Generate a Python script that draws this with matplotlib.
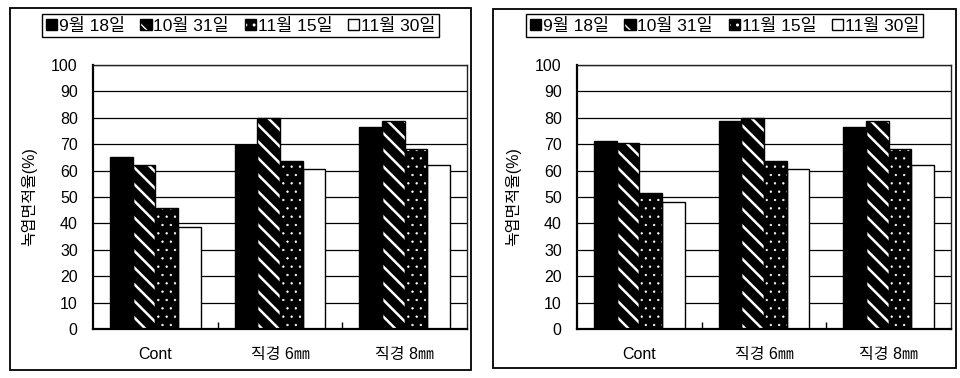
import matplotlib
matplotlib.use("Agg")
import numpy as np
import matplotlib.pyplot as plt
from matplotlib.patches import Patch, Rectangle
from matplotlib.legend_handler import HandlerTuple

plt.rcParams['font.family'] = ['Liberation Sans', 'Noto Sans CJK KR', 'DejaVu Sans']

# 처리구 / 조사일
categories = ['Cont', '직경 6㎜', '직경 8㎜']
dates = ['9월 18일', '10월 31일', '11월 15일', '11월 30일']

# 녹엽면적율(%) - 왼쪽 그래프
left_sep18 = [65.3, 69.7, 76.5]
left_oct31 = [62.0, 80.0, 78.7]
left_nov15 = [45.7, 63.6, 68.0]
left_nov30 = [38.8, 60.6, 62.1]

# 녹엽면적율(%) - 오른쪽 그래프
right_sep18 = [71.1, 78.8, 76.5]
right_oct31 = [70.5, 80.0, 78.7]
right_nov15 = [51.5, 63.6, 68.0]
right_nov30 = [48.1, 60.6, 62.1]

yticks = list(range(0, 101, 10))

# (face, hatch color, hatch, hatch linewidth)
styles = [('black', 'black', None, 1.0),
          ('black', 'white', '\\\\', 1.8),
          ('black', 'white', '..', 0.45),
          ('white', 'black', None, 1.0)]

W, H = 960, 378
fig = plt.figure(figsize=(W / 100, H / 100), dpi=100)


def hatch_lw(patch, lw):
    if hasattr(patch, 'set_hatch_linewidth'):
        patch.set_hatch_linewidth(lw)
    else:
        patch._hatch_linewidth = lw


def draw_panel(left_px, series, box):
    ax = fig.add_axes([left_px / W, (H - 329) / H, 374 / W, 264 / H])
    x = np.arange(len(categories))
    bw = 0.182
    for i, (vals, (fc, hc, hatch, hlw)) in enumerate(zip(series, styles)):
        pos = x + (i - 1.5) * bw
        bars = ax.bar(pos, vals, bw, color=fc, edgecolor=hc, hatch=hatch,
                      linewidth=0, zorder=2)
        for b in bars:
            hatch_lw(b, hlw)
        ax.bar(pos, vals, bw, fill=False, edgecolor='black',
               linewidth=1.0, zorder=3)
    ax.set_xlim(-0.5, len(categories) - 0.5)
    ax.set_ylim(0, 100)
    ax.set_yticks(yticks)
    ax.set_xticks(x)
    ax.set_xticklabels(categories)
    ax.set_xticks([0.5, 1.5], minor=True)
    ax.tick_params(axis='x', which='major', length=0, pad=13, labelsize=11.5)
    ax.tick_params(axis='x', which='minor', direction='in', length=5,
                   width=1, color='black')
    ax.tick_params(axis='y', length=0, pad=11, labelsize=11.5)
    ax.yaxis.grid(True, color='black', linewidth=0.9)
    ax.set_axisbelow(True)
    for s in ['left', 'bottom']:
        ax.spines[s].set_linewidth(1.6)
        ax.spines[s].set_color('black')
    for s in ['top', 'right']:
        ax.spines[s].set_linewidth(1.0)
        ax.spines[s].set_color('#222222')
    ax.set_ylabel('녹엽면적율(%)', fontsize=11.5)
    ax.yaxis.set_label_coords(-0.15, 0.5)

    # 바깥 테두리
    bx0, by0, bx1, by1 = box
    fig.add_artist(Rectangle((bx0 / W, 1 - by1 / H), (bx1 - bx0) / W,
                             (by1 - by0) / H, transform=fig.transFigure,
                             fill=False, edgecolor='black', linewidth=1.3))

    handles = []
    for fc, hc, hatch, hlw in styles:
        hp = Patch(facecolor=fc, edgecolor=hc, hatch=hatch, linewidth=0)
        hatch_lw(hp, hlw)
        handles.append((hp, Patch(fill=False, edgecolor='black', linewidth=1.0)))
    cx = (bx0 + bx1) / 2
    leg = fig.legend(handles, dates, loc='center', ncol=4,
                     bbox_to_anchor=(cx / W, 1 - 25.5 / H),
                     handler_map={tuple: HandlerTuple(ndivide=1, pad=0)},
                     fontsize=12.5, frameon=True, fancybox=False,
                     edgecolor='black', framealpha=1, borderpad=0.2,
                     handlelength=0.65, handleheight=0.65,
                     handletextpad=0.1, columnspacing=0.9,
                     borderaxespad=0)
    leg.get_frame().set_linewidth(1.0)
    return ax


draw_panel(93, [left_sep18, left_oct31, left_nov15, left_nov30],
           (10, 8, 471, 370))
draw_panel(577, [right_sep18, right_oct31, right_nov15, right_nov30],
           (493, 9, 956, 368))

fig.savefig('out.png', dpi=100)
